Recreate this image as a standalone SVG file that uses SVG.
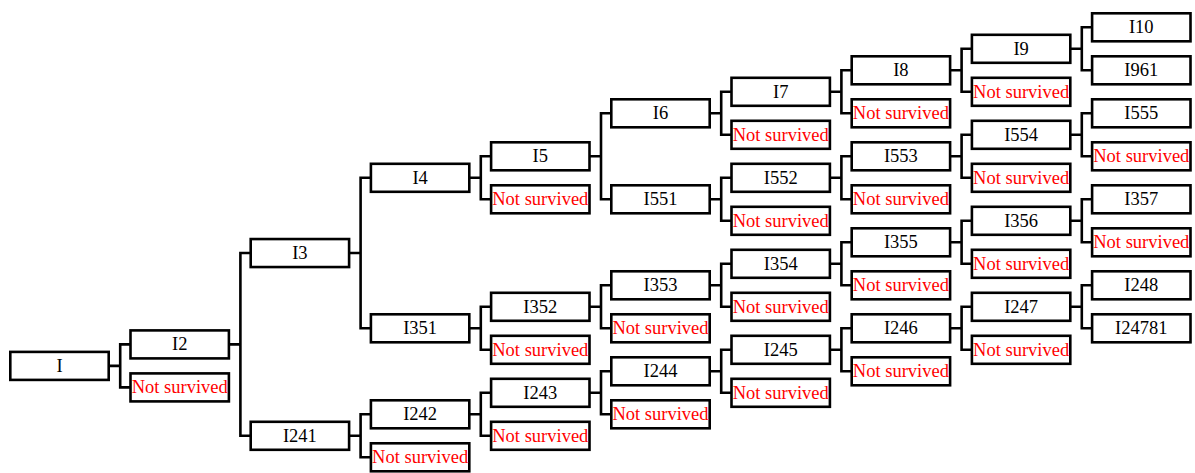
<svg xmlns="http://www.w3.org/2000/svg" width="1195" height="473" viewBox="0 0 1195 473">
<style>
.node use{fill:#fff;stroke:#000;stroke-width:2.6}
.node text{font-family:"Liberation Serif","Times New Roman",serif;font-size:18.5px;text-anchor:middle;fill:#000}
.ns text{fill:#ff0000}
#connectors path{fill:none;stroke:#000;stroke-width:2.6}
</style>
<defs>
<rect id="box" x="1.3" y="-14" width="98.4" height="28"/>
</defs>
<g id="connectors">
<path d="M108.7,365.9H120.2M130.5,344.4H120.2V387.4H130.5"/>
<path d="M228.9,344.4H240.4M250.7,253.05H240.4V435.8H250.7"/>
<path d="M349.1,253.05H360.6M370.9,177.8H360.6V328.3H370.9"/>
<path d="M349.1,435.8H360.6M370.9,414.3H360.6V457.3H370.9"/>
<path d="M469.3,177.8H480.8M491.1,156.3H480.8V199.3H491.1"/>
<path d="M469.3,328.3H480.8M491.1,306.8H480.8V349.8H491.1"/>
<path d="M469.3,414.3H480.8M491.1,392.8H480.8V435.8H491.1"/>
<path d="M589.5,156.3H601M611.3,113.3H601V199.3H611.3"/>
<path d="M589.5,306.8H601M611.3,285.3H601V328.3H611.3"/>
<path d="M589.5,392.8H601M611.3,371.3H601V414.3H611.3"/>
<path d="M709.7,113.3H721.2M731.5,91.8H721.2V134.8H731.5"/>
<path d="M709.7,199.3H721.2M731.5,177.8H721.2V220.8H731.5"/>
<path d="M709.7,285.3H721.2M731.5,263.8H721.2V306.8H731.5"/>
<path d="M709.7,371.3H721.2M731.5,349.8H721.2V392.8H731.5"/>
<path d="M829.9,91.8H841.4M851.7,70.3H841.4V113.3H851.7"/>
<path d="M829.9,177.8H841.4M851.7,156.3H841.4V199.3H851.7"/>
<path d="M829.9,263.8H841.4M851.7,242.3H841.4V285.3H851.7"/>
<path d="M829.9,349.8H841.4M851.7,328.3H841.4V371.3H851.7"/>
<path d="M950.1,70.3H961.6M971.9,48.8H961.6V91.8H971.9"/>
<path d="M950.1,156.3H961.6M971.9,134.8H961.6V177.8H971.9"/>
<path d="M950.1,242.3H961.6M971.9,220.8H961.6V263.8H971.9"/>
<path d="M950.1,328.3H961.6M971.9,306.8H961.6V349.8H971.9"/>
<path d="M1070.3,48.8H1081.8M1092.1,27.3H1081.8V70.3H1092.1"/>
<path d="M1070.3,134.8H1081.8M1092.1,113.3H1081.8V156.3H1092.1"/>
<path d="M1070.3,220.8H1081.8M1092.1,199.3H1081.8V242.3H1092.1"/>
<path d="M1070.3,306.8H1081.8M1092.1,285.3H1081.8V328.3H1092.1"/>
</g>
<!-- column 0 -->
<g id="n-I" class="node" transform="translate(9,365.9)"><use href="#box"/><text x="50.5" y="6">I</text></g>
<!-- column 1 -->
<g id="n-I2" class="node" transform="translate(129.2,344.4)"><use href="#box"/><text x="50.5" y="6">I2</text></g>
<g id="ns-I" class="node ns" transform="translate(129.2,387.4)"><use href="#box"/><text x="50.5" y="6">Not survived</text></g>
<!-- column 2 -->
<g id="n-I3" class="node" transform="translate(249.4,253.05)"><use href="#box"/><text x="50.5" y="6">I3</text></g>
<g id="n-I241" class="node" transform="translate(249.4,435.8)"><use href="#box"/><text x="50.5" y="6">I241</text></g>
<!-- column 3 -->
<g id="n-I4" class="node" transform="translate(369.6,177.8)"><use href="#box"/><text x="50.5" y="6">I4</text></g>
<g id="n-I351" class="node" transform="translate(369.6,328.3)"><use href="#box"/><text x="50.5" y="6">I351</text></g>
<g id="n-I242" class="node" transform="translate(369.6,414.3)"><use href="#box"/><text x="50.5" y="6">I242</text></g>
<g id="ns-I241" class="node ns" transform="translate(369.6,457.3)"><use href="#box"/><text x="50.5" y="6">Not survived</text></g>
<!-- column 4 -->
<g id="n-I5" class="node" transform="translate(489.8,156.3)"><use href="#box"/><text x="50.5" y="6">I5</text></g>
<g id="ns-I4" class="node ns" transform="translate(489.8,199.3)"><use href="#box"/><text x="50.5" y="6">Not survived</text></g>
<g id="n-I352" class="node" transform="translate(489.8,306.8)"><use href="#box"/><text x="50.5" y="6">I352</text></g>
<g id="ns-I351" class="node ns" transform="translate(489.8,349.8)"><use href="#box"/><text x="50.5" y="6">Not survived</text></g>
<g id="n-I243" class="node" transform="translate(489.8,392.8)"><use href="#box"/><text x="50.5" y="6">I243</text></g>
<g id="ns-I242" class="node ns" transform="translate(489.8,435.8)"><use href="#box"/><text x="50.5" y="6">Not survived</text></g>
<!-- column 5 -->
<g id="n-I6" class="node" transform="translate(610,113.3)"><use href="#box"/><text x="50.5" y="6">I6</text></g>
<g id="n-I551" class="node" transform="translate(610,199.3)"><use href="#box"/><text x="50.5" y="6">I551</text></g>
<g id="n-I353" class="node" transform="translate(610,285.3)"><use href="#box"/><text x="50.5" y="6">I353</text></g>
<g id="ns-I352" class="node ns" transform="translate(610,328.3)"><use href="#box"/><text x="50.5" y="6">Not survived</text></g>
<g id="n-I244" class="node" transform="translate(610,371.3)"><use href="#box"/><text x="50.5" y="6">I244</text></g>
<g id="ns-I243" class="node ns" transform="translate(610,414.3)"><use href="#box"/><text x="50.5" y="6">Not survived</text></g>
<!-- column 6 -->
<g id="n-I7" class="node" transform="translate(730.2,91.8)"><use href="#box"/><text x="50.5" y="6">I7</text></g>
<g id="ns-I6" class="node ns" transform="translate(730.2,134.8)"><use href="#box"/><text x="50.5" y="6">Not survived</text></g>
<g id="n-I552" class="node" transform="translate(730.2,177.8)"><use href="#box"/><text x="50.5" y="6">I552</text></g>
<g id="ns-I551" class="node ns" transform="translate(730.2,220.8)"><use href="#box"/><text x="50.5" y="6">Not survived</text></g>
<g id="n-I354" class="node" transform="translate(730.2,263.8)"><use href="#box"/><text x="50.5" y="6">I354</text></g>
<g id="ns-I353" class="node ns" transform="translate(730.2,306.8)"><use href="#box"/><text x="50.5" y="6">Not survived</text></g>
<g id="n-I245" class="node" transform="translate(730.2,349.8)"><use href="#box"/><text x="50.5" y="6">I245</text></g>
<g id="ns-I244" class="node ns" transform="translate(730.2,392.8)"><use href="#box"/><text x="50.5" y="6">Not survived</text></g>
<!-- column 7 -->
<g id="n-I8" class="node" transform="translate(850.4,70.3)"><use href="#box"/><text x="50.5" y="6">I8</text></g>
<g id="ns-I7" class="node ns" transform="translate(850.4,113.3)"><use href="#box"/><text x="50.5" y="6">Not survived</text></g>
<g id="n-I553" class="node" transform="translate(850.4,156.3)"><use href="#box"/><text x="50.5" y="6">I553</text></g>
<g id="ns-I552" class="node ns" transform="translate(850.4,199.3)"><use href="#box"/><text x="50.5" y="6">Not survived</text></g>
<g id="n-I355" class="node" transform="translate(850.4,242.3)"><use href="#box"/><text x="50.5" y="6">I355</text></g>
<g id="ns-I354" class="node ns" transform="translate(850.4,285.3)"><use href="#box"/><text x="50.5" y="6">Not survived</text></g>
<g id="n-I246" class="node" transform="translate(850.4,328.3)"><use href="#box"/><text x="50.5" y="6">I246</text></g>
<g id="ns-I245" class="node ns" transform="translate(850.4,371.3)"><use href="#box"/><text x="50.5" y="6">Not survived</text></g>
<!-- column 8 -->
<g id="n-I9" class="node" transform="translate(970.6,48.8)"><use href="#box"/><text x="50.5" y="6">I9</text></g>
<g id="ns-I8" class="node ns" transform="translate(970.6,91.8)"><use href="#box"/><text x="50.5" y="6">Not survived</text></g>
<g id="n-I554" class="node" transform="translate(970.6,134.8)"><use href="#box"/><text x="50.5" y="6">I554</text></g>
<g id="ns-I553" class="node ns" transform="translate(970.6,177.8)"><use href="#box"/><text x="50.5" y="6">Not survived</text></g>
<g id="n-I356" class="node" transform="translate(970.6,220.8)"><use href="#box"/><text x="50.5" y="6">I356</text></g>
<g id="ns-I355" class="node ns" transform="translate(970.6,263.8)"><use href="#box"/><text x="50.5" y="6">Not survived</text></g>
<g id="n-I247" class="node" transform="translate(970.6,306.8)"><use href="#box"/><text x="50.5" y="6">I247</text></g>
<g id="ns-I246" class="node ns" transform="translate(970.6,349.8)"><use href="#box"/><text x="50.5" y="6">Not survived</text></g>
<!-- column 9 -->
<g id="n-I10" class="node" transform="translate(1090.8,27.3)"><use href="#box"/><text x="50.5" y="6">I10</text></g>
<g id="n-I961" class="node" transform="translate(1090.8,70.3)"><use href="#box"/><text x="50.5" y="6">I961</text></g>
<g id="n-I555" class="node" transform="translate(1090.8,113.3)"><use href="#box"/><text x="50.5" y="6">I555</text></g>
<g id="ns-I554" class="node ns" transform="translate(1090.8,156.3)"><use href="#box"/><text x="50.5" y="6">Not survived</text></g>
<g id="n-I357" class="node" transform="translate(1090.8,199.3)"><use href="#box"/><text x="50.5" y="6">I357</text></g>
<g id="ns-I356" class="node ns" transform="translate(1090.8,242.3)"><use href="#box"/><text x="50.5" y="6">Not survived</text></g>
<g id="n-I248" class="node" transform="translate(1090.8,285.3)"><use href="#box"/><text x="50.5" y="6">I248</text></g>
<g id="n-I24781" class="node" transform="translate(1090.8,328.3)"><use href="#box"/><text x="50.5" y="6">I24781</text></g>
</svg>
